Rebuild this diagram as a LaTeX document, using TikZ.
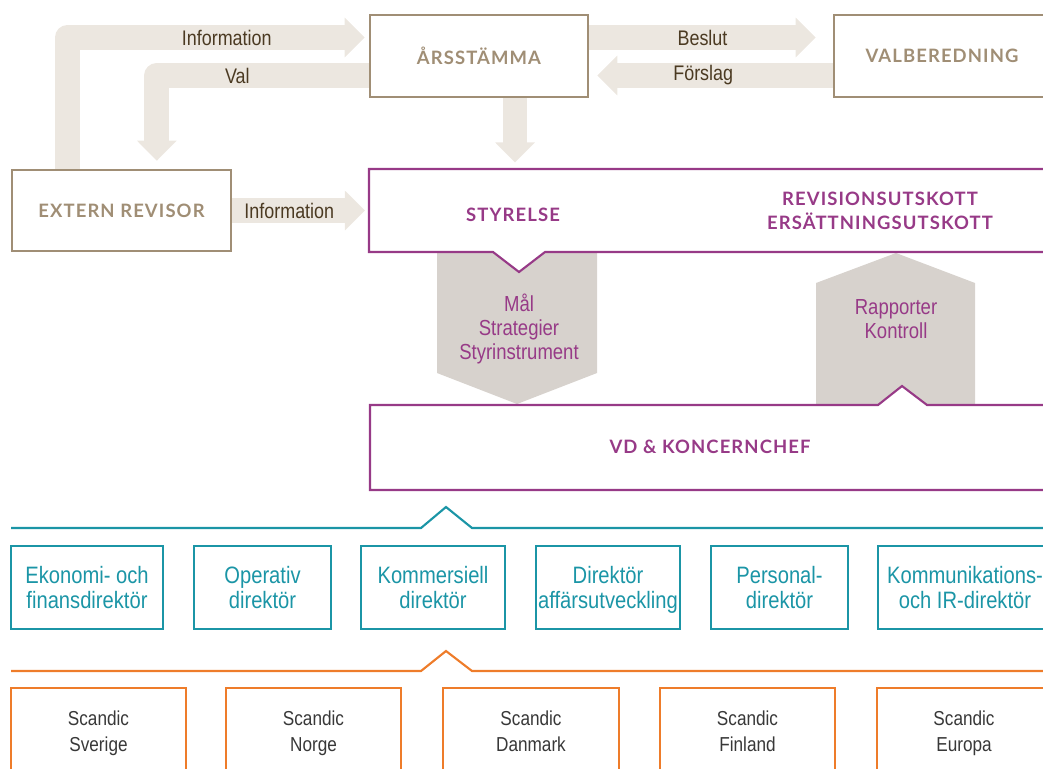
\documentclass[tikz,border=0pt]{standalone}
\usepackage{fontspec}
\setmainfont{Liberation Sans}
\newfontfamily\condfont[FakeStretch=0.85]{Liberation Sans}
\newfontfamily\headfont[LetterSpace=6]{Lato}
\usetikzlibrary{arrows.meta,calc}

\definecolor{headbrown}{HTML}{A08E75}
\definecolor{labelbrown}{HTML}{4B3A22}
\definecolor{bandbeige}{HTML}{ECE7E0}
\definecolor{blockgray}{HTML}{D7D2CD}
\definecolor{scpurple}{HTML}{973A87}
\definecolor{scteal}{HTML}{1B95A6}
\definecolor{scorange}{HTML}{EE7C2A}

\begin{document}
\begin{tikzpicture}[x=0.02cm,y=-0.02cm,
    brownbox/.style={draw=headbrown, line width=1.4pt, fill=white, inner sep=0pt,
      text=headbrown, font=\headfont\bfseries\fontsize{10.5}{12}\selectfont, minimum height=1.64cm},
    band/.style={draw=bandbeige, line width=14.2pt, line join=round,
      -{Triangle[length=11.5pt,width=22pt]}},
    bandlabel/.style={text=labelbrown, font=\condfont\fontsize{12}{14}\selectfont},
    purpleline/.style={draw=scpurple, line width=1.2pt},
    purplehead/.style={text=scpurple, align=center, font=\headfont\bfseries\fontsize{10.5}{13.6}\selectfont},
    blocktext/.style={text=scpurple, align=center, font=\condfont\fontsize{12.4}{13.6}\selectfont},
    tealline/.style={draw=scteal, line width=1.2pt},
    tealbox/.style={draw=scteal, line width=1.3pt, inner sep=0pt, minimum height=1.66cm,
      text=scteal, align=center, font=\condfont\fontsize{13.5}{14.7}\selectfont},
    orangeline/.style={draw=scorange, line width=1.2pt},
    orangebox/.style={draw=scorange, line width=1.3pt, inner sep=0pt, minimum height=1.72cm,
      text=black!78, align=center, font=\condfont\fontsize{11.5}{14.7}\selectfont}]

\useasboundingbox (0,0) rectangle (1043,768);

\node[brownbox, minimum width=4.36cm] (arsstamma) at (479,56) {ÅRSSTÄMMA};
\node[brownbox, minimum width=4.32cm] (valberedning) at (942,56) {VALBEREDNING};
\node[brownbox, minimum width=4.38cm, minimum height=1.62cm] (extrevisor) at (121.5,210.5) {EXTERN REVISOR};
\coordinate (styrelse) at (369,210.5);

% flows round the meeting
\draw[band] ($(extrevisor.north west)+(56.5,0)$) |- ($(arsstamma.west)+(-4,-18.5)$)
    node[bandlabel, pos=0.768] {Information};
\draw[band] ($(arsstamma.west)+(0,19.5)$) -| ($(extrevisor.north west)+(146,-8)$)
    node[bandlabel, pos=0.31] {Val};
\draw[band] ($(arsstamma.south)+(36,0)$) -- ($(styrelse)+(146,-48)$);
\draw[band] (extrevisor.east) -- ($(styrelse)+(-4,0)$)
    node[bandlabel, pos=0.43] {Information};
\draw[band] ($(arsstamma.east)+(0,-18.5)$) -- ($(valberedning.west)+(-17,-18.5)$)
    node[bandlabel, midway] {Beslut};
\draw[band] ($(valberedning.west)+(0,19.5)$) -- ($(arsstamma.east)+(8,19.5)$)
    node[bandlabel, pos=0.55] {Förslag};

\fill[blockgray] (437,252) -- (597,252) -- (597,373) -- (517,404) -- (437,373) -- cycle;
\fill[blockgray] (816,405) -- (816,283) -- (896,253) -- (975,283) -- (975,405) -- cycle;

\draw[purpleline, fill=white] (1060,169) -- (369,169) -- (369,252) -- (493,252)
    -- (519,272) -- (545,252) -- (1060,252);
\draw[purpleline, fill=white] (1060,405) -- (927,405) -- (902,386) -- (878,405)
    -- (370,405) -- (370,490) -- (1060,490);

\node[purplehead] (styrelselabel) at (513,215) {STYRELSE};
\node[purplehead] (utskott) at (880,211) {REVISIONSUTSKOTT\\ERSÄTTNINGSUTSKOTT};
\node[purplehead] (vd) at (710,447) {VD \& KONCERNCHEF};
\node[blocktext] (mal) at (519,329) {Mål\\Strategier\\Styrinstrument};
\node[blocktext] (rapporter) at (896,319) {Rapporter\\Kontroll};

% ledning
\draw[tealline] (11,528) -- (421,528) -- (446,507) -- (472,528) -- (1060,528);
\foreach \a/\b/\t [count=\i] in {11/163/{Ekonomi- och\\finansdirektör},
    194/331/{Operativ\\direktör}, 361/505/{Kommersiell\\direktör},
    536/680/{Direktör\\affärsutveckling}, 711/848/{Personal-\\direktör},
    878/1052/{Kommunikations-\\och IR-direktör}}
  \node[tealbox, minimum width={(\b-\a)*0.02cm}] (chef\i) at ({(\a+\b)/2},587.5)
    {\rule{0pt}{14pt}\t\strut};

% affärsområden
\draw[orangeline] (11,671) -- (421,671) -- (446,651) -- (472,671) -- (1060,671);
\foreach \a/\b/\t [count=\i] in {11/186/Sverige, 226/401/Norge, 443/619/Danmark,
    660/835/Finland, 877/1051/Europa}
  \node[orangebox, minimum width={(\b-\a)*0.02cm}] (land\i) at ({(\a+\b)/2},731)
    {\rule{0pt}{13pt}Scandic\\\t\strut};

\end{tikzpicture}
\end{document}
